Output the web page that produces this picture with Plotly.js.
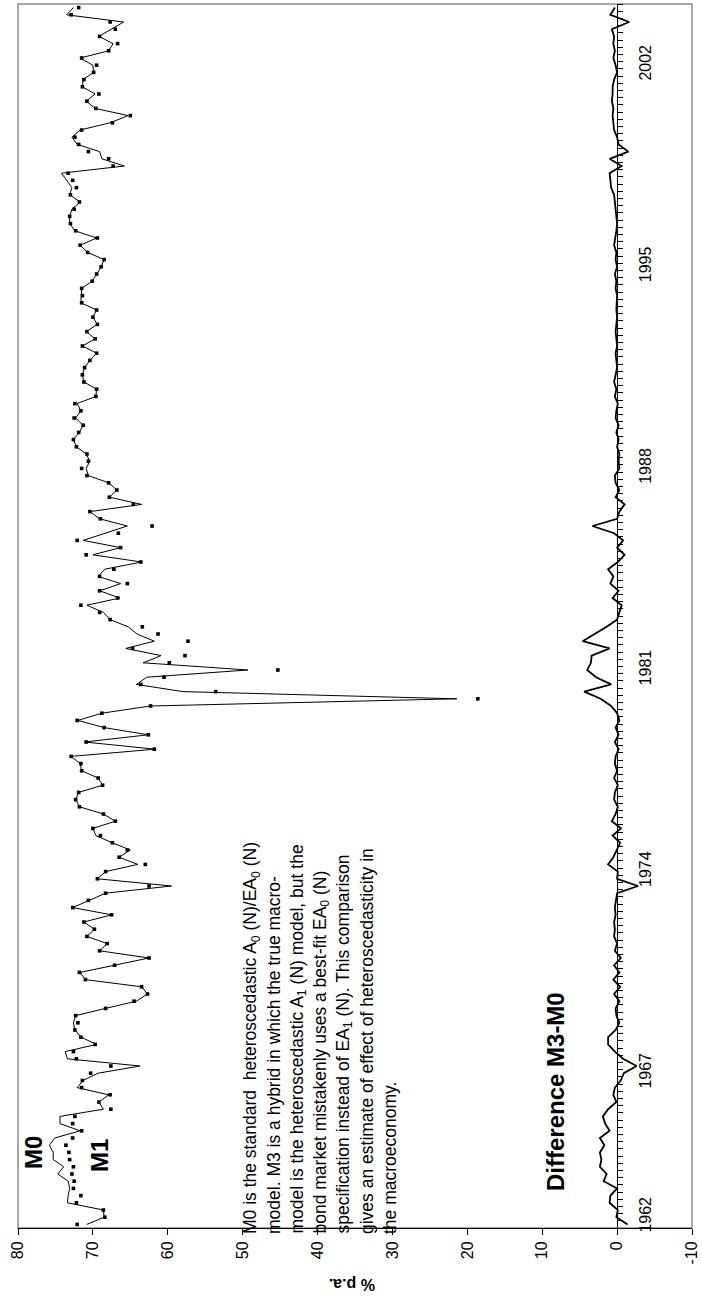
<!DOCTYPE html>
<html>
<head>
<meta charset="utf-8">
<script src="https://cdn.plot.ly/plotly-3.0.1.min.js"></script>
<style>html,body{margin:0;padding:0;background:#fff;}#chart{width:702px;height:1302px;}</style>
</head>
<body>
<div id="chart"></div>
<script>
// Quarterly series, first observation 1961 Q4
const START_YEAR = 1961.75;
const YEAR_LABELS = [1962, 1967, 1974, 1981, 1988, 1995, 2002];
const VALUE_TICKS = [80, 70, 60, 50, 40, 30, 20, 10, 0, -10];

// M0 (solid line), % p.a.
const M0 = [
70.8,68.5,68.6,73.4,73.3,73.1,73.3,74.7,73.9,75.3,
75.3,75.8,75.1,71.7,74.4,74.4,68.6,69.2,67.9,72.1,
71.3,69.3,63.7,73.4,73.7,69.5,71.6,72.4,72.6,72.3,
68.3,64.2,62.7,63.5,71.0,71.7,67.1,62.5,69.1,68.1,
70.8,69.8,71.2,67.5,72.7,70.6,68.3,59.5,69.4,68.3,
64.0,66.5,65.0,67.4,69.6,70.0,67.0,68.6,71.8,72.3,
71.9,68.7,69.3,71.5,71.7,72.9,61.7,71.1,62.6,68.5,
72.0,68.8,62.3,21.4,58.0,64.2,62.8,49.3,63.3,60.9,
65.6,61.8,64.1,65.3,67.7,68.6,70.8,66.4,69.1,66.3,
69.3,68.4,63.5,70.0,66.3,71.3,68.3,65.4,69.1,70.4,
63.5,67.8,66.8,67.9,70.6,70.9,70.4,70.9,72.2,72.6,
71.8,71.3,72.3,71.6,72.1,69.6,69.5,71.2,71.4,71.1,
70.4,69.5,71.4,69.7,70.9,69.4,70.0,69.5,71.6,71.6,
71.5,70.1,69.5,68.9,68.5,70.7,71.7,69.5,72.4,73.1,
73.1,72.8,71.7,73.1,72.8,73.5,74.2,65.8,68.8,69.1,
72.1,72.8,71.7,67.7,65.3,69.7,70.9,69.7,71.4,71.3,
69.9,70.0,71.7,67.9,67.3,69.2,67.5,65.9,73.5,72.6
];

// M1 (square markers), % p.a.
const M1 = [
72.1,68.4,68.6,72.2,71.6,72.6,72.5,72.8,72.6,73.1,
73.2,73.6,72.7,71.5,72.7,72.4,67.6,69.2,67.7,71.5,
71.4,70.3,67.6,72.2,72.6,69.7,71.6,72.4,72.0,72.3,
68.3,64.5,62.7,63.5,71.0,71.8,67.1,62.5,69.1,68.1,
70.8,69.8,71.2,67.5,72.7,70.6,68.3,62.5,69.4,68.3,
63.0,66.5,65.4,67.4,69.0,70.0,67.0,68.6,71.8,72.3,
71.9,68.7,69.3,71.5,71.6,72.9,61.8,70.9,62.6,68.5,
72.1,68.8,62.3,18.6,53.6,63.6,60.5,45.3,59.8,57.7,
64.7,57.3,61.3,63.4,67.7,69.1,71.6,66.7,69.1,65.4,
69.1,67.2,63.6,70.9,66.3,72.1,66.6,62.1,69.0,70.4,
64.6,67.8,66.8,67.9,70.8,71.5,70.6,70.8,72.2,72.6,
71.9,71.3,72.5,71.6,72.4,69.6,69.5,71.2,71.4,71.1,
70.4,69.5,71.4,69.7,70.8,69.4,70.0,69.5,71.5,71.4,
71.5,70.1,69.5,68.9,68.5,70.7,71.7,69.4,72.3,73.0,
73.1,72.5,71.8,73.0,72.2,72.7,73.3,67.3,67.9,70.6,
71.9,72.4,71.5,67.4,65.0,69.6,70.8,69.2,71.4,71.2,
69.9,69.5,71.5,67.9,66.7,69.1,67.0,67.7,72.9,71.9
];

// Difference M3-M0, % p.a.
const DIFF = [
-1.4,0.1,-0.1,1.0,0.9,0.0,1.8,1.4,2.3,2.1,
2.3,1.7,2.3,1.0,1.6,1.9,1.2,0.1,0.5,0.3,
-0.5,-0.9,-2.6,-0.8,0.3,1.2,1.2,0.2,-0.3,0.1,
0.2,-0.3,0.4,-0.4,0.5,-0.3,0.4,-0.5,0.3,0.0,
0.4,0.3,0.4,0.2,0.3,0.1,0.0,-2.8,0.0,-0.1,
1.2,0.5,0.0,-0.4,0.6,-0.5,0.7,0.2,-0.1,0.4,
0.3,-0.1,0.4,0.0,0.3,0.2,-0.2,0.3,-0.2,0.2,
-0.3,0.0,0.8,2.2,4.4,0.8,2.8,4.0,3.5,3.4,
1.0,4.6,3.0,1.4,0.0,-0.3,-0.6,0.6,-0.2,0.9,
0.5,1.2,-0.1,-1.0,0.0,-0.8,0.4,3.3,0.0,-0.3,
-1.0,0.2,-0.3,0.2,0.3,-0.3,-0.2,-0.3,0.0,-0.2,
0.1,-0.2,0.2,0.1,-0.1,0.3,0.1,0.4,0.2,0.0,
0.1,0.2,0.0,0.1,0.2,0.1,0.0,0.1,0.1,0.0,
0.2,0.1,0.3,0.0,0.2,0.1,0.4,0.2,0.1,0.0,
0.1,0.1,0.3,0.4,0.8,0.9,1.0,-0.6,1.0,-1.5,
-0.2,0.0,0.4,0.5,0.6,0.5,0.7,0.6,0.6,0.4,
0.0,0.2,0.5,0.3,0.5,0.4,0.7,-1.6,0.9,0.3
];

const TEXT_LINES = [
  'M0 is the standard  heteroscedastic A<sub>0</sub> (N)/EA<sub>0</sub> (N)',
  'model. M3 is a hybrid in which the true macro-',
  'model is the heteroscedastic A<sub>1</sub> (N) model, but the',
  'bond market mistakenly uses a best-fit EA<sub>0</sub> (N)',
  'specification instead of EA<sub>1</sub> (N). This comparison',
  'gives an estimate of effect of heteroscedasticity in',
  'the macroeconomy.'
];

const FONT = 'Liberation Sans, Arial, Helvetica, sans-serif';
const t = M0.map((_, i) => START_YEAR + i / 4);
const yRange = [START_YEAR - 0.125, START_YEAR + (M0.length - 0.5) / 4];
const qTicks = [];
for (let k = 0; k <= M0.length; k++) qTicks.push(START_YEAR - 0.125 + k / 4);

// pixel helpers for annotation placement (plot area 18..692 x 4..1228)
const PL = 18, PR = 692, PT = 4, PB = 1228;
const px = x => (x - PL) / (PR - PL);
const py = y => (PB - y) / (PB - PT);

const traces = [
  {type:'scatter', mode:'lines', x:M0, y:t, name:'M0', line:{color:'#000', width:1}, hoverinfo:'skip'},
  {type:'scatter', mode:'markers', x:M1, y:t, name:'M1', marker:{symbol:'square', size:3.6, color:'#000'}, hoverinfo:'skip'},
  {type:'scatter', mode:'lines', x:DIFF, y:t, name:'Difference M3-M0', line:{color:'#000', width:1.8}, hoverinfo:'skip'},
  {type:'scatter', mode:'markers', x:[], y:[], yaxis:'y2', showlegend:false, hoverinfo:'skip'}
];

const lineX = [251, 274, 298, 321, 344, 367, 390];
const annotations = [
  {text:'<b>M0</b>', x:px(33), y:py(1153), xref:'paper', yref:'paper', textangle:-90, showarrow:false, xanchor:'center', yanchor:'middle', font:{family:FONT, size:24, color:'#000'}},
  {text:'<b>M1</b>', x:px(99), y:py(1156), xref:'paper', yref:'paper', textangle:-90, showarrow:false, xanchor:'center', yanchor:'middle', font:{family:FONT, size:24, color:'#000'}},
  {text:'<b>Difference M3-M0</b>', x:px(555), y:py(1092), xref:'paper', yref:'paper', textangle:-90, showarrow:false, xanchor:'center', yanchor:'middle', font:{family:FONT, size:24, color:'#000'}},
  {text:'<b>% p.a.</b>', x:px(352), y:py(1285), xref:'paper', yref:'paper', textangle:180, showarrow:false, xanchor:'center', yanchor:'middle', font:{family:FONT, size:16, color:'#000'}}
];
TEXT_LINES.forEach((s, k) => {
  annotations.push({text:s, x:px(lineX[k]), y:py(1236), xref:'paper', yref:'paper', textangle:-90, showarrow:false, xanchor:'center', yanchor:'bottom', font:{family:FONT, size:17.5, color:'#000'}});
});

const layout = {
  width:702, height:1302,
  margin:{l:PL, r:702-PR, t:PT, b:1302-PB},
  paper_bgcolor:'#fff', plot_bgcolor:'#fff',
  showlegend:false,
  font:{family:FONT, size:16, color:'#000'},
  xaxis:{range:[80,-10], tickvals:VALUE_TICKS, ticktext:VALUE_TICKS.map(String), ticks:'outside', ticklen:6, tickwidth:1, tickcolor:'#000',
         showline:true, linecolor:'#000', linewidth:1, tickangle:-90, tickfont:{family:FONT, size:16, color:'#000'},
         showgrid:false, zeroline:false, fixedrange:true},
  yaxis:{range:yRange, anchor:'free', position:80/90, side:'right', showline:true, linecolor:'#000', linewidth:1,
         ticks:'outside', ticklen:5, tickwidth:1, tickcolor:'#000', tickvals:qTicks, showticklabels:false,
         showgrid:false, zeroline:false, fixedrange:true},
  yaxis2:{range:yRange, overlaying:'y', anchor:'free', position:80/90, side:'right', showline:false, ticks:'',
          tickvals:YEAR_LABELS, ticktext:YEAR_LABELS.map(String), tickangle:-90, ticklabelstandoff:17,
          tickfont:{family:FONT, size:16, color:'#000'}, showgrid:false, zeroline:false, fixedrange:true},
  shapes:[{type:'rect', xref:'paper', yref:'paper', x0:0, x1:1, y0:0, y1:1, line:{color:'#8c8c8c', width:1.5}, layer:'below'}],
  annotations:annotations
};

Plotly.newPlot('chart', traces, layout, {staticPlot:true, displayModeBar:false});
</script>
</body>
</html>
